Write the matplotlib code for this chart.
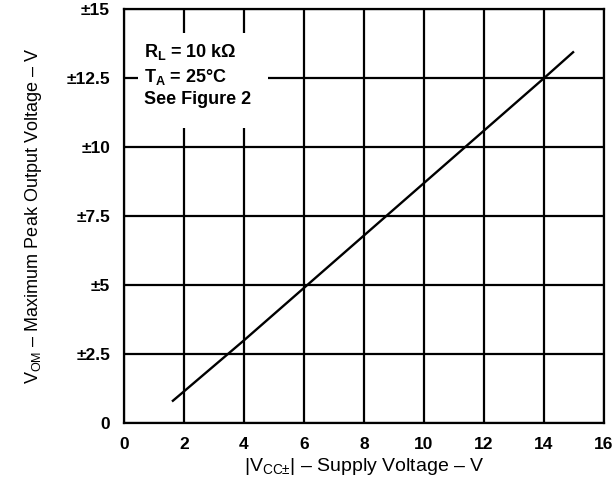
import matplotlib
matplotlib.use("Agg")
import matplotlib.pyplot as plt
from matplotlib.patches import Rectangle

plt.rcParams['font.family'] = ['Liberation Sans', 'DejaVu Sans']
plt.rcParams['mathtext.fontset'] = 'custom'
plt.rcParams['mathtext.rm'] = 'Liberation Sans'
plt.rcParams['mathtext.it'] = 'Liberation Sans'
plt.rcParams['mathtext.bf'] = 'Liberation Sans:bold'

# supply voltage |VCC±| (V) vs max peak output voltage VOM (V)
vcc = [1.63, 2.0, 4.0, 6.0, 8.0, 10.0, 12.0, 14.0, 14.97]
vom = [0.81, 1.15, 3.0, 4.9, 6.8, 8.7, 10.6, 12.5, 13.44]

x_ticks = [0, 2, 4, 6, 8, 10, 12, 14, 16]
y_ticks = [0, 2.5, 5, 7.5, 10, 12.5, 15]
y_tick_labels = ["0", "±2.5", "±5", "±7.5", "±10", "±12.5", "±15"]

fig = plt.figure(figsize=(6.12, 4.83), dpi=100)
ax = fig.add_axes([0.2026, 0.124, 0.7843, 0.857])

ax.set_xlim(0, 16)
ax.set_ylim(0, 15)
ax.set_xticks(x_ticks)
ax.set_xticklabels([str(t) for t in x_ticks], fontweight='bold', fontsize=12.5)
ax.set_yticks(y_ticks)
ax.set_yticklabels(y_tick_labels, fontweight='bold', fontsize=12.5)
ax.tick_params(length=0, pad=10)
ax.grid(True, color='black', linewidth=1.6)
ax.set_axisbelow(True)
for s in ax.spines.values():
    s.set_linewidth(1.6)

ax.plot(vcc, vom, color='black', linewidth=1.7, zorder=3)

# white patch behind the condition text, hides grid lines
ax.add_patch(Rectangle((0.47, 10.7), 4.33, 3.45, facecolor='white',
                       edgecolor='none', zorder=2))
ax.text(0.68, 13.44, r"R$_\mathregular{L}$ = 10 kΩ", fontsize=13,
        fontweight='bold', zorder=4, va='center')
ax.text(0.68, 12.56, r"T$_\mathregular{A}$ = 25°C", fontsize=13,
        fontweight='bold', zorder=4, va='center')
ax.text(0.68, 11.72, "See Figure 2", fontsize=13,
        fontweight='bold', zorder=4, va='center')

ax.set_xlabel(r"|V$_\mathregular{CC±}$| – Supply Voltage – V", fontsize=14, labelpad=3)
ax.set_ylabel(r"V$_\mathregular{OM}$ – Maximum Peak Output Voltage – V", fontsize=13, labelpad=16)

fig.savefig("out.png", dpi=100)
